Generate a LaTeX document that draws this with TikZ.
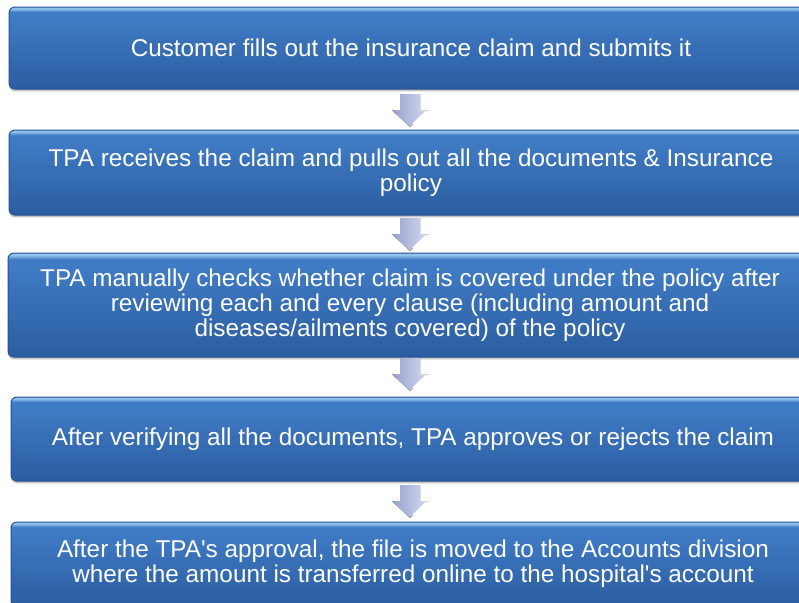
\documentclass[tikz,border=0pt]{standalone}
\usepackage{fontspec}
\setmainfont{Liberation Sans}
\usetikzlibrary{shadows}

\definecolor{stagehi}{RGB}{146,194,236}
\definecolor{stagetop}{RGB}{64,124,198}
\definecolor{stagebot}{RGB}{43,93,160}
\definecolor{stageedge}{RGB}{38,82,146}
\definecolor{arrowdark}{RGB}{150,162,206}
\definecolor{arrowlight}{RGB}{212,218,240}

\pgfdeclareverticalshading{stagefill}{100bp}{color(0bp)=(stagebot); color(25bp)=(stagebot);
  color(70bp)=(stagetop); color(72bp)=(stagetop); color(74bp)=(stagehi); color(100bp)=(stagehi)}

\tikzstyle{stage}=[rectangle, rounded corners=3pt, draw=stageedge, line width=0.5pt,
  shading=stagefill, text=white, align=center, minimum width=402pt, inner sep=0pt,
  font=\fontsize{12.15pt}{12.5pt}\selectfont,
  drop shadow={shadow xshift=0pt, shadow yshift=-1.2pt, fill=black!45, opacity=0.5}]
\tikzstyle{flow}=[left color=arrowdark, right color=arrowlight]

\begin{document}
\begin{tikzpicture}[x=0.5pt,y=-0.5pt]
	\clip (0,0) rectangle (799,602);
	\fill[white] (0,0) rectangle (799,602);

	\node[stage, minimum height=41pt] (claim) at (411,48)
		{Customer fills out the insurance claim and submits it};
	\node[stage, minimum height=42.5pt] (receive) at (411,172.5)
		{TPA receives the claim and pulls out all the documents \& Insurance\\ policy};
	\node[stage, minimum height=52pt] (check) at (410,305)
		{TPA manually checks whether claim is covered under the policy after\\
		 reviewing each and every clause (including amount and\\
		 diseases/ailments covered) of the policy};
	\node[stage, minimum height=42pt] (verify) at (413,439)
		{After verifying all the documents, TPA approves or rejects the claim};
	\node[stage, minimum height=42pt] (approve) at (413,564)
		{After the TPA\textquotesingle s approval, the file is moved to the Accounts division\\
		 where the amount is transferred online to the hospital\textquotesingle s account};

	% block arrows between the stages
	\coordinate (a1) at (410,94);
	\coordinate (a2) at (410,218);
	\coordinate (a3) at (410,358);
	\coordinate (a4) at (410,485);
	\foreach \a in {a1,a2,a3,a4} {
		\fill[flow] (\a) ++(-10,0) -- ++(20,0) -- ++(0,16) -- ++(8,0)
			-- ++(-18,17) -- ++(-18,-17) -- ++(8,0) -- cycle;
		\draw[white, line width=0.8pt] (\a) ++(17,17) -- ++(-14,13);
	}
\end{tikzpicture}
\end{document}
